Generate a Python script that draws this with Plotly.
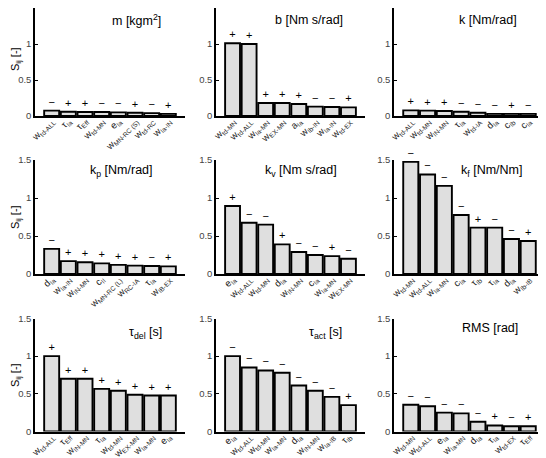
import plotly.graph_objects as go

# ---------------- data ----------------
titles = ["m [kgm<sup>2</sup>]", "b [Nm s/rad]", "k [Nm/rad]",
          "k<sub>p</sub> [Nm/rad]", "k<sub>v</sub> [Nm s/rad]", "k<sub>f</sub> [Nm/Nm]",
          "τ<sub>del</sub> [s]", "τ<sub>act</sub> [s]", "RMS [rad]"]

labels_m = ["w<sub>td-ALL</sub>", "τ<sub>Ia</sub>", "τ<sub>Eff</sub>", "w<sub>td-MN</sub>",
            "e<sub>Ia</sub>", "w<sub>MN-RC (S)</sub>", "w<sub>td-RC</sub>", "w<sub>Ia-IN</sub>"]
values_m = [0.075, 0.06, 0.055, 0.055, 0.05, 0.045, 0.04, 0.03]
signs_m = ["−", "+", "+", "−", "−", "+", "−", "+"]

labels_b = ["w<sub>td-MN</sub>", "w<sub>td-ALL</sub>", "w<sub>Ia-MN</sub>", "w<sub>EX-MN</sub>",
            "a<sub>Ia</sub>", "w<sub>Ib-IN</sub>", "w<sub>Ia-IN</sub>", "w<sub>td-EX</sub>"]
values_b = [1.01, 1.0, 0.18, 0.18, 0.167, 0.13, 0.125, 0.12]
signs_b = ["+", "+", "+", "+", "+", "−", "−", "+"]

labels_k = ["w<sub>td-ALL</sub>", "w<sub>td-MN</sub>", "w<sub>IN-MN</sub>", "τ<sub>Ia</sub>",
            "w<sub>td-IA</sub>", "d<sub>Ia</sub>", "c<sub>Ib</sub>", "c<sub>Ia</sub>"]
values_k = [0.078, 0.074, 0.07, 0.06, 0.045, 0.03, 0.03, 0.03]
signs_k = ["+", "+", "+", "−", "−", "−", "+", "−"]

labels_kp = ["d<sub>Ia</sub>", "w<sub>Ia-IN</sub>", "w<sub>IN-MN</sub>", "c<sub>II</sub>",
             "w<sub>MN-RC (L)</sub>", "w<sub>RC-IA</sub>", "τ<sub>Ia</sub>", "w<sub>IB-EX</sub>"]
values_kp = [0.33, 0.17, 0.155, 0.14, 0.12, 0.11, 0.105, 0.10]
signs_kp = ["−", "+", "+", "+", "+", "+", "−", "+"]

labels_kv = ["e<sub>Ia</sub>", "w<sub>td-ALL</sub>", "w<sub>td-MN</sub>", "d<sub>Ia</sub>",
             "w<sub>IN-MN</sub>", "c<sub>Ia</sub>", "w<sub>Ia-MN</sub>", "w<sub>EX-MN</sub>"]
values_kv = [0.895, 0.675, 0.65, 0.39, 0.29, 0.25, 0.235, 0.20]
signs_kv = ["+", "−", "−", "+", "−", "−", "+", "−"]

labels_kf = ["w<sub>td-MN</sub>", "w<sub>td-ALL</sub>", "w<sub>Ia-MN</sub>", "c<sub>Ia</sub>",
             "τ<sub>Ib</sub>", "τ<sub>Ia</sub>", "d<sub>Ia</sub>", "w<sub>Ib-IB</sub>"]
values_kf = [1.475, 1.31, 1.16, 0.776, 0.61, 0.61, 0.46, 0.434]
signs_kf = ["−", "−", "−", "−", "+", "−", "−", "+"]

labels_tdel = ["w<sub>td-ALL</sub>", "τ<sub>Eff</sub>", "w<sub>IN-MN</sub>", "τ<sub>Ia</sub>",
               "w<sub>td-MN</sub>", "w<sub>EX-MN</sub>", "w<sub>Ia-MN</sub>", "e<sub>Ia</sub>"]
values_tdel = [1.0, 0.70, 0.70, 0.566, 0.54, 0.487, 0.477, 0.477]
signs_tdel = ["+", "+", "+", "+", "+", "+", "+", "+"]

labels_tact = ["e<sub>Ia</sub>", "w<sub>td-ALL</sub>", "w<sub>td-MN</sub>", "w<sub>Ia-MN</sub>",
               "d<sub>Ia</sub>", "w<sub>IN-MN</sub>", "w<sub>Ia-IB</sub>", "τ<sub>Ib</sub>"]
values_tact = [1.0, 0.85, 0.81, 0.78, 0.61, 0.54, 0.46, 0.35]
signs_tact = ["−", "−", "−", "−", "−", "−", "−", "+"]

labels_rms = ["w<sub>td-MN</sub>", "w<sub>td-ALL</sub>", "e<sub>Ia</sub>", "w<sub>Ia-MN</sub>",
              "d<sub>Ia</sub>", "τ<sub>Ia</sub>", "w<sub>td-EX</sub>", "τ<sub>Eff</sub>"]
values_rms = [0.355, 0.335, 0.25, 0.24, 0.13, 0.08, 0.07, 0.07]
signs_rms = ["−", "−", "−", "−", "−", "+", "−", "+"]

panels = [
    (labels_m, values_m, signs_m),
    (labels_b, values_b, signs_b),
    (labels_k, values_k, signs_k),
    (labels_kp, values_kp, signs_kp),
    (labels_kv, values_kv, signs_kv),
    (labels_kf, values_kf, signs_kf),
    (labels_tdel, values_tdel, signs_tdel),
    (labels_tact, values_tact, signs_tact),
    (labels_rms, values_rms, signs_rms),
]

# title anchor positions (data coordinates) per panel
title_pos = [(6.1, 1.34), (5.6, 1.34), (5.6, 1.34),
             (5.2, 1.35), (5.15, 1.35), (5.8, 1.35),
             (6.65, 1.31), (6.6, 1.31), (5.7, 1.37)]

# ---------------- layout geometry (page px) ----------------
OFF = 8  # default body margin of the html page
W, H = 546 - OFF, 458 - OFF
col_px = [(35, 185), (216, 365), (394, 545)]
row_px = [(2, 116), (160, 274), (318.5, 431.5)]

FONT = "Liberation Sans, Arial, Helvetica, sans-serif"

fig = go.Figure()
layout = dict(
    width=W, height=H,
    margin=dict(l=0, r=0, t=0, b=0),
    paper_bgcolor="white", plot_bgcolor="white",
    showlegend=False,
    font=dict(family=FONT, size=10, color="#222"),
)
annotations = []

for i, (labels, values, signs) in enumerate(panels):
    r, c = divmod(i, 3)
    n = i + 1
    xa = "x" if n == 1 else f"x{n}"
    ya = "y" if n == 1 else f"y{n}"
    xs = list(range(1, len(values) + 1))
    fig.add_trace(go.Bar(
        x=xs, y=values, xaxis=xa, yaxis=ya,
        width=0.9,
        marker=dict(color="#dfdfdf", line=dict(color="black", width=1.9)),
        text=signs, textposition="outside",
        textfont=dict(size=11, color="black"),
        cliponaxis=False,
    ))
    x0, x1 = [p - OFF for p in col_px[c]]
    y0, y1 = [p - OFF for p in row_px[r]]
    layout["xaxis" if n == 1 else f"xaxis{n}"] = dict(
        domain=[x0 / W, min(x1 / W, 1.0)], anchor=ya, range=[0, 9],
        tickmode="array", tickvals=xs, ticktext=labels, tickangle=-45,
        tickfont=dict(size=9.5, color="#222"), ticklabelstandoff=-6,
        showline=True, linecolor="black", linewidth=1.8,
        ticks="", showgrid=False, zeroline=False, automargin=False,
    )
    layout["yaxis" if n == 1 else f"yaxis{n}"] = dict(
        domain=[max(1 - y1 / H, 0.0), min(1 - y0 / H, 1.0)], anchor=xa, range=[0, 1.5],
        tickmode="array", tickvals=[0, 0.5, 1, 1.5], ticktext=["0", "0.5", "1", "1.5"],
        tickfont=dict(size=9.5, color="#444"),
        showline=True, linecolor="black", linewidth=1.5,
        ticks="inside", ticklen=3, tickcolor="black",
        showgrid=False, zeroline=False, automargin=False,
    )
    tx, ty = title_pos[i]
    annotations.append(dict(
        text=titles[i], x=tx, y=ty, xref=xa, yref=ya,
        showarrow=False, font=dict(size=12.5, color="black"),
        xanchor="center", yanchor="middle",
    ))
    if c == 0:
        annotations.append(dict(
            text="S<sub>ij</sub> [-]", x=0, y=1 - ((y0 + y1) / 2) / H,
            xref="paper", yref="paper", showarrow=False, textangle=-90,
            font=dict(size=11, color="black"),
            xanchor="left", yanchor="middle", borderpad=0,
        ))

layout["annotations"] = annotations
fig.update_layout(**layout)
fig.write_html("out.html")
